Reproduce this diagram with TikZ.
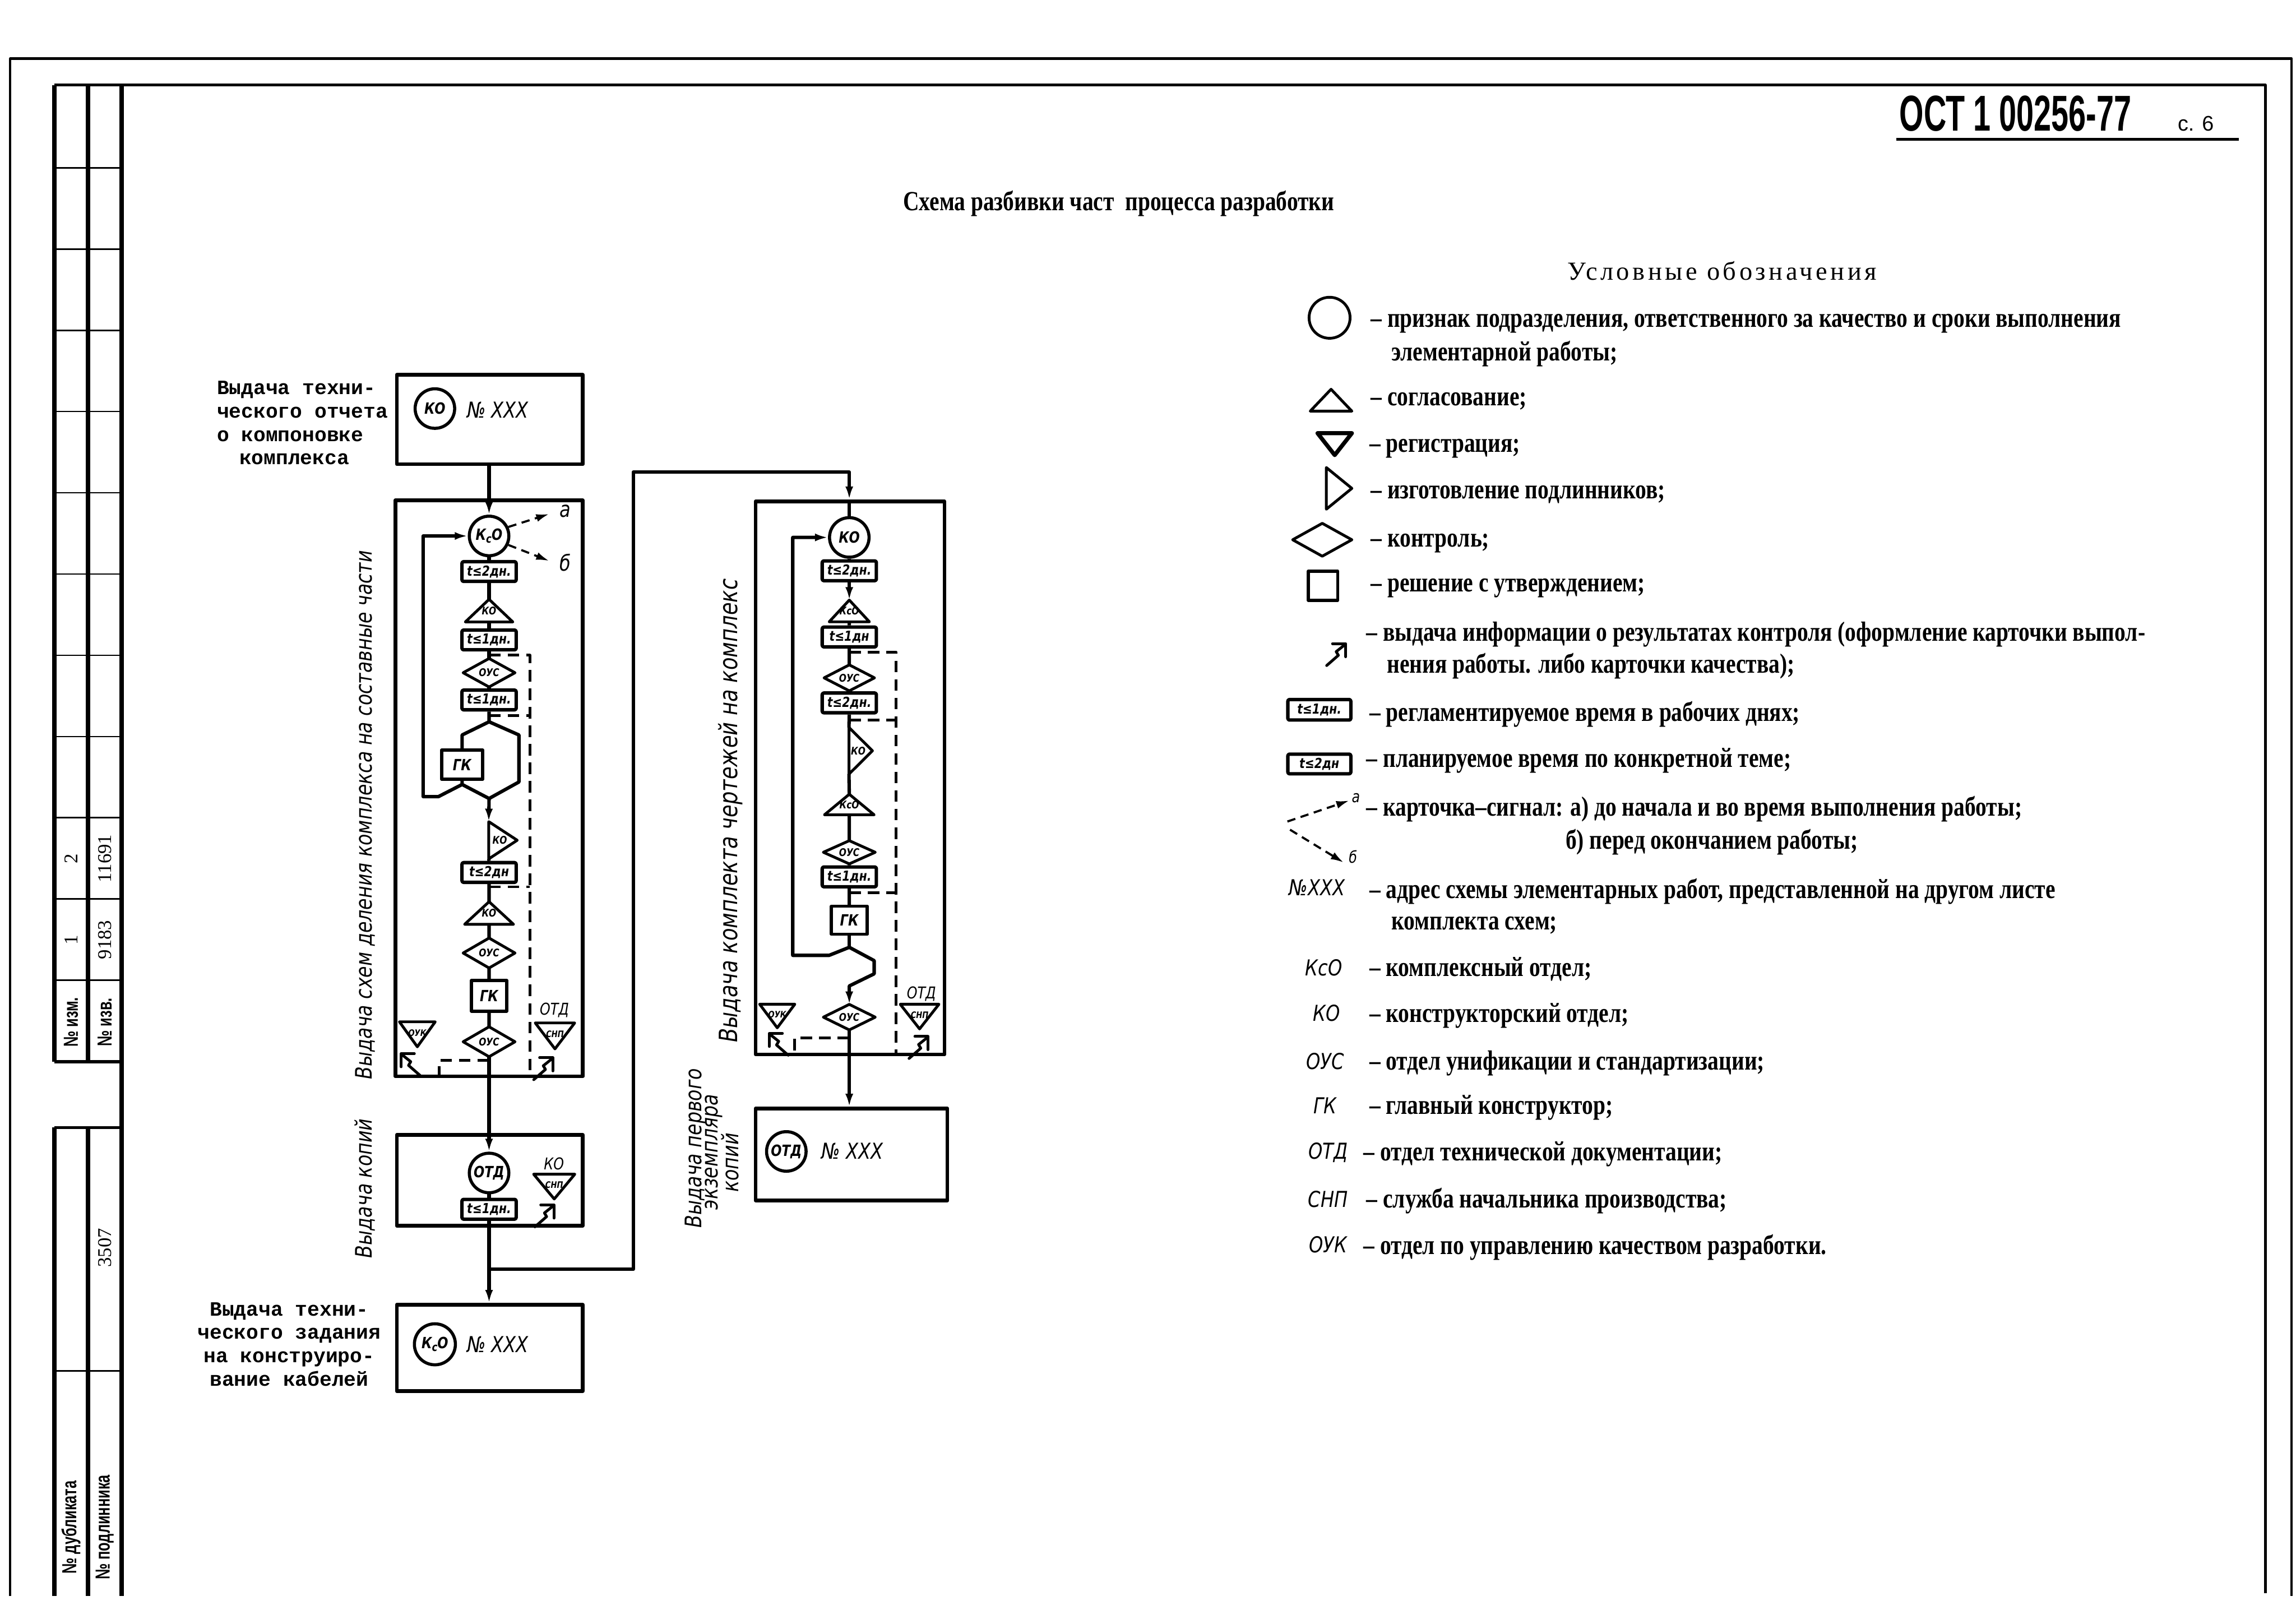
\documentclass[tikz,border=0pt]{standalone}
\usepackage{fontspec}
\setmainfont{Liberation Serif}
\newfontfamily\gostf[FakeStretch=0.82]{DejaVu Sans}
\newfontfamily\legf[FakeStretch=0.8]{Liberation Serif}
\newfontfamily\legsp[LetterSpace=12]{Liberation Serif}
\newfontfamily\monof{Liberation Mono}
\newfontfamily\hdrf[FakeStretch=0.62]{Liberation Sans}
\newfontfamily\sansf{Liberation Sans}
\newfontfamily\stpf[FakeStretch=0.7]{Liberation Sans}
\usetikzlibrary{arrows.meta}
\def\U{0.31645mm}
\newcommand\myLab{\gostf\itshape\fontsize{10}{12}\selectfont}
\newcommand\myCir{\gostf\itshape\bfseries\fontsize{9.5}{12}\selectfont}
\newcommand\myTim{\gostf\itshape\bfseries\fontsize{8.5}{10}\selectfont}
\newcommand\mySm{\gostf\itshape\bfseries\fontsize{6.5}{7}\selectfont}
\newcommand\myXs{\gostf\itshape\bfseries\fontsize{5.5}{6}\selectfont}
\newcommand\myNum{\gostf\itshape\fontsize{13.5}{15}\selectfont}
\newcommand\myAbb{\gostf\itshape\fontsize{13.5}{15}\selectfont}
\newcommand\myVert{\gostf\itshape\fontsize{14}{16}\selectfont}
\newcommand\myVertB{\gostf\itshape\fontsize{15.5}{17}\selectfont}
\newcommand\myLeg{\legf\bfseries\fontsize{17}{20}\selectfont}
\newcommand\myLeft{\monof\bfseries\fontsize{12.5}{14.4}\selectfont}
\newcommand\myKcO{К\raisebox{-0.35ex}{\fontsize{7}{7}\selectfont с}О}
\newcommand\triup[1]{\draw[shp] (#1.south west) -- (#1.south east) -- (#1.north) -- cycle;}
\newcommand\tridn[1]{\draw[shp] (#1.north west) -- (#1.north east) -- (#1.south) -- cycle;}
\newcommand\trirt[1]{\draw[shp] (#1.north west) -- (#1.east) -- (#1.south west) -- cycle;}
\newcommand\mydia[1]{\draw[shp] (#1.north) -- (#1.east) -- (#1.south) -- (#1.west) -- cycle;}
\tikzset{fbic/.pic={
  \draw[line width=1.7pt, line cap=round] (9,0) -- (0,0) -- (0,9);
  \draw[line width=1.7pt, line cap=round] (1.5,1.5) -- (6.5,5.5) -- (5,8) -- (13,15);}}
\begin{document}
\begin{tikzpicture}[x=0.31645mm, y=-0.31645mm, line join=round,
 main/.style={line width=2.1pt},
 shp/.style={line width=1.7pt},
 frm/.style={draw, line width=2.3pt, rectangle, inner sep=0pt},
 arr/.style={-{Latex[length=2.8mm,width=1.7mm]}},
 dsh/.style={line width=1.7pt, dash pattern=on 2.5mm off 1.5mm},
 sig/.style={line width=1.3pt, dash pattern=on 1.8mm off 1.2mm},
 circ/.style={circle, draw, line width=1.9pt, minimum size=27*\U, inner sep=0pt, font=\myCir},
 tbx/.style={rectangle, draw, line width=2.1pt, rounded corners=1pt, minimum width=37*\U, minimum height=13.5*\U, inner sep=0pt, font=\myTim},
 gkb/.style={rectangle, draw, line width=1.9pt, inner sep=0pt, font=\myCir},
 shpbox/.style={rectangle, inner sep=0pt, font=\mySm},
 txt/.style={inner sep=0pt},
 leg/.style={anchor=west, inner sep=0pt, font=\myLeg, text height=12pt, text depth=3.5pt},
 abb/.style={inner sep=0pt, font=\myAbb},
 stp/.style={inner sep=0pt, rotate=90, font=\stpf\bfseries\fontsize{12.5}{13}\selectfont},
 stn/.style={inner sep=0pt, rotate=90, font=\fontsize{12}{13}\selectfont},
]
\fill[white] (0,0) rectangle (1568,1109);
\useasboundingbox (0,0) rectangle (1568,1109);

% ---------- page frame and stamp ----------
\draw[line width=1.4pt] (7,1090) -- (7,40) -- (1565,40) -- (1565,1090);
\draw[line width=1.6pt] (37,58) -- (1547,58) -- (1547,1088);
\draw[line width=2.8pt] (37,58) -- (37,725) (60,58) -- (60,725) (83,58) -- (83,1090)
  (37,770) -- (37,1090) (60,770) -- (60,1090);
\foreach \yy in {114.5,170,225.5,281,336.5,392,447.5,503,558.5,614,669.5,936}
  \draw[line width=1pt] (37,\yy) -- (83,\yy);
\draw[line width=2pt] (37,725) -- (83,725) (37,770) -- (83,770);
\node[stp] (s1) at (48.5,698) {№ изм.};
\node[stp] (s2) at (71.5,698) {№ изв.};
\node[stn] (s3) at (48.5,641.8) {1};
\node[stn] (s4) at (71.5,641.8) {9183};
\node[stn] (s5) at (48.5,586.3) {2};
\node[stn] (s6) at (71.5,586.3) {11691};
\node[stn] (s7) at (71.5,852) {3507};
\node[stp] (s8) at (48.5,1043) {№ дубликата};
\node[stp] (s9) at (71.5,1043) {№ подлинника};

% ---------- header ----------
\node[txt, anchor=base west, font=\hdrf\bfseries\fontsize{31}{34}\selectfont] (ost) at (1297,89.5) {ОСТ 1 00256-77};
\node[txt, anchor=base west, font=\sansf\fontsize{13}{14}\selectfont] (pg) at (1487,89.5) {с. 6};
\draw[line width=1.8pt] (1295,95) -- (1529,95);
\node[txt, font=\myLeg] (title) at (764,139) {Схема разбивки част\ \ процесса разработки};

% ---------- column 1 ----------
\node[txt, font=\myLeft, align=left, anchor=north west] (lab1) at (148,260) {Выдача техни-\\ческого отчета\\о компоновке\\\hspace*{1.1em}комплекса};
\node[frm, minimum width=127*\U, minimum height=61*\U] (box1) at (334.5,286.5) {};
\node[circ] (c0) at (297,279) {КО};
\node[txt, font=\myNum] (n0) at (340,280) {№ XXX};

\node[frm, minimum width=128*\U, minimum height=393.4*\U] (box2) at (334,538.3) {};
\node[circ] (c1) at (334,366) {\myKcO};
\node[tbx] (tb11) at (334,390.3) {t≤2дн.};
\node[shpbox, minimum width=32*\U, minimum height=15*\U] (t12) at (334,417) {\raisebox{-2pt}{КО}}; \triup{t12}
\node[tbx] (tb13) at (334,437) {t≤1дн.};
\node[shpbox, minimum width=35*\U, minimum height=19*\U] (d14) at (334,459.4) {ОУС}; \mydia{d14}
\node[tbx] (tb15) at (334,478) {t≤1дн.};
\node[gkb, minimum width=28*\U, minimum height=20*\U] (gk16) at (315.6,522.2) {ГК};
\node[shpbox, minimum width=19*\U, minimum height=25*\U] (t17) at (343.5,573.8) {\hspace*{-4pt}КО}; \trirt{t17}
\node[tbx] (tb18) at (334,595.8) {t≤2дн};
\node[shpbox, minimum width=33*\U, minimum height=15*\U] (t19) at (334,623.5) {\raisebox{-2pt}{КО}}; \triup{t19}
\node[shpbox, minimum width=35*\U, minimum height=20*\U] (d20) at (334,650.8) {ОУС}; \mydia{d20}
\node[gkb, minimum width=24*\U, minimum height=21*\U] (gk21) at (334,680) {ГК};
\node[shpbox, minimum width=35*\U, minimum height=20*\U] (d22) at (334,711.4) {ОУС}; \mydia{d22}
\node[shpbox, font=\myXs, minimum width=24*\U, minimum height=16.6*\U] (t23) at (285,706.3) {\raisebox{2pt}{ОУК}}; \tridn{t23}
\node[shpbox, font=\myXs, minimum width=26.5*\U, minimum height=17.3*\U] (t24) at (379,707.4) {\raisebox{2pt}{СНП}}; \tridn{t24}
\node[txt, font=\myLab] (o24) at (378.6,690) {ОТД};
\node[txt, font=\myVert, rotate=90] (v1lab) at (249.5,556.5) {Выдача схем деления комплекса на составные части};

\coordinate (h0) at (334,492.9);
\coordinate (h1) at (315.6,501.9);
\coordinate (h2) at (315.6,535.7);
\coordinate (h3) at (334,545.3);
\coordinate (h4) at (354.4,501.9);
\coordinate (h5) at (354.4,534);
\coordinate (l1) at (299.4,544);
\coordinate (l2) at (289,544);
\draw[main,arr] (c1.north |- box1.south) -- (c1.north);
\draw[main] (c1.south) -- (tb11.north) (tb11.south) -- (t12.north) (t12.south) -- (tb13.north)
  (tb13.south) -- (d14.north) (d14.south) -- (tb15.north);
\draw[main] (tb15.south) -- (h0) -- (h1) -- (gk16.north);
\draw[main] (gk16.south) -- (h2) -- (h3) -- (h5) -- (h4) -- (h0);
\draw[main,arr] (h2) -- (l1) -- (l2) |- (c1.west);
\draw[main,arr] (h3) -- (t17.north west);
\draw[main] (t17.south west) -- (tb18.north) (tb18.south) -- (t19.north) (t19.south) -- (d20.north)
  (d20.south) -- (gk21.north) (gk21.south) -- (d22.north);
\coordinate (sgA) at (375,351);
\coordinate (sgB) at (375,383);
\draw[sig,arr] (c1.25) -- (sgA);
\draw[sig,arr] (c1.-25) -- (sgB);
\node[txt, font=\myNum] (la) at (386,349) {а};
\node[txt, font=\myNum] (lb) at (386,384) {б};
\coordinate (d1) at (334,447.4);
\coordinate (d1r) at (361.8,447.4);
\coordinate (d1b) at (361.8,735);
\coordinate (d2) at (334,488.8);
\coordinate (d3) at (334,605.6);
\coordinate (d4) at (334,724);
\coordinate (d4l) at (300,724);
\coordinate (d4b) at (300,735);
\draw[dsh] (d1) -- (d1r) -- (d1b);
\draw[dsh] (d2) -- (d2 -| d1r);
\draw[dsh] (d3) -- (d3 -| d1r);
\draw[dsh] (d4) -- (d4l) -- (d4b);
\pic at (274,719.5) {fbic};
\pic[xscale=-1] at (377.5,722.3) {fbic};

% box 3
\node[frm, minimum width=127*\U, minimum height=62*\U] (box3) at (334.5,806) {};
\node[circ] (c3) at (334,801) {ОТД};
\node[tbx] (tb3) at (334,825.8) {t≤1дн.};
\node[shpbox, font=\myXs, minimum width=27.7*\U, minimum height=16.5*\U] (t3) at (378.5,810.3) {\raisebox{2pt}{СНП}}; \tridn{t3}
\node[txt, font=\myLab] (k3) at (378.3,794.8) {КО};
\pic[xscale=-1] at (378.3,822.8) {fbic};
\node[txt, font=\myVert, rotate=90] (v2lab) at (249,811.5) {Выдача копий};
\draw[main,arr] (d22.south) -- (c3.north);
\draw[main] (c3.south) -- (tb3.north);

% box 4
\node[frm, minimum width=127*\U, minimum height=59*\U] (box4) at (334.5,920.5) {};
\node[circ, minimum size=28*\U] (c4) at (297,918) {\myKcO};
\node[txt, font=\myNum] (n4) at (340,918) {№ XXX};
\node[txt, font=\myLeft, align=center] (lab4) at (197.5,918) {Выдача техни-\\ческого задания\\на конструиро-\\вание кабелей};
\draw[main,arr] (tb3.south) -- (c3.north |- box4.north);

% ---------- column 2 ----------
\node[frm, minimum width=129*\U, minimum height=377.7*\U] (box5) at (580.5,531.2) {};
\node[circ] (c5) at (580,367) {КО};
\node[tbx] (tb51) at (580,389.8) {t≤2дн.};
\node[shpbox, minimum width=27*\U, minimum height=14.4*\U] (t52) at (580,417.2) {\raisebox{-2pt}{КсО}}; \triup{t52}
\node[tbx] (tb53) at (580,435) {t≤1дн};
\node[shpbox, minimum width=34*\U, minimum height=17.3*\U] (d54) at (580,462.9) {ОУС}; \mydia{d54}
\node[tbx] (tb55) at (580,480) {t≤2дн.};
\node[shpbox, minimum width=15.6*\U, minimum height=31.4*\U] (t56) at (587.8,512.7) {\hspace*{-3pt}КО}; \trirt{t56}
\node[shpbox, minimum width=33.5*\U, minimum height=13.6*\U] (t57) at (580,549.4) {\raisebox{-2pt}{КсО}}; \triup{t57}
\node[shpbox, minimum width=35*\U, minimum height=15.4*\U] (d58) at (580,582) {ОУС}; \mydia{d58}
\node[tbx] (tb59) at (580,598.8) {t≤1дн.};
\node[gkb, minimum width=24.6*\U, minimum height=19.1*\U] (gk5) at (580,628.4) {ГК};
\node[shpbox, minimum width=35*\U, minimum height=17*\U] (d5b) at (580,694.6) {ОУС}; \mydia{d5b}
\node[shpbox, font=\myXs, minimum width=23.6*\U, minimum height=15.7*\U] (t5l) at (530.8,693.8) {\raisebox{2pt}{ОУК}}; \tridn{t5l}
\node[shpbox, font=\myXs, minimum width=26*\U, minimum height=16.4*\U] (t5r) at (628,694.2) {\raisebox{2pt}{СНП}}; \tridn{t5r}
\node[txt, font=\myLab] (o5) at (629.3,678.7) {ОТД};
\node[txt, font=\myVertB, rotate=90] (v3lab) at (498.7,553.6) {Выдача комплекта чертежей на комплекс};

\coordinate (br0) at (334,866.8);
\coordinate (br1) at (432.4,866.8);
\coordinate (br2) at (432.4,322.4);
\coordinate (br3) at (580,322.4);
\draw[main,arr] (br0) -- (br1) -- (br2) -- (br3) -- (c5.north |- box5.north);
\draw[main] (c5.north |- box5.north) -- (c5.north);
\draw[main] (c5.south) -- (tb51.north);
\draw[main,arr] (tb51.south) -- (t52.north);
\draw[main] (t52.south) -- (tb53.north) (tb53.south) -- (d54.north) (d54.south) -- (tb55.north)
  (tb55.south) -- (t56.north west) (t56.south west) -- (t57.north) (t57.south) -- (d58.north)
  (d58.south) -- (tb59.north) (tb59.south) -- (gk5.north);
\coordinate (v0) at (580,646.9);
\coordinate (v1) at (566.2,652.4);
\coordinate (v2) at (541.4,652.4);
\coordinate (v3) at (597,656);
\coordinate (v4) at (597,665);
\coordinate (v5) at (580,673.3);
\draw[main] (gk5.south) -- (v0);
\draw[main,arr] (v0) -- (v1) -- (v2) |- (c5.west);
\draw[main,arr] (v0) -- (v3) -- (v4) -- (v5) -- (d5b.north);
\coordinate (e1) at (580,445.3);
\coordinate (f1) at (612,445.3);
\coordinate (f2) at (612,720);
\coordinate (e2) at (580,491.6);
\coordinate (e3) at (580,609.7);
\coordinate (e4) at (580,708.7);
\coordinate (g1) at (542.7,708.7);
\coordinate (g2) at (542.7,720);
\draw[dsh] (e1) -- (f1) -- (f2);
\draw[dsh] (e2) -- (e2 -| f1);
\draw[dsh] (e3) -- (e3 -| f1);
\draw[dsh] (e4) -- (g1) -- (g2);
\pic at (525.3,705.6) {fbic};
\pic[xscale=-1] at (633.8,707.8) {fbic};

% box 6
\node[frm, minimum width=131*\U, minimum height=62.7*\U] (box6) at (581.5,788.4) {};
\node[circ] (c6) at (537,786.3) {ОТД};
\node[txt, font=\myNum] (n6) at (582,786) {№ XXX};
\draw[main,arr] (d5b.south) -- (d5b.south |- box6.north);
\node[txt, font=\myVert, rotate=90] (v4a) at (475.2,784) {Выдача первого};
\node[txt, font=\myVert, rotate=90] (v4b) at (487.5,786.7) {экземпляра};
\node[txt, font=\myVert, rotate=90] (v4c) at (498.5,794) {копий};

% ---------- legend ----------
\node[txt, font=\legsp\fontsize{16}{18}\selectfont] (lgt) at (1176,185) {Условные обозначения};
\node[circle, draw, line width=1.7pt, minimum size=28*\U, inner sep=0pt] (lg1) at (908,217) {};
\node[shpbox, minimum width=28*\U, minimum height=14.5*\U] (lg2) at (909,273.3) {}; \triup{lg2}
\node[shpbox, minimum width=23*\U, minimum height=14.5*\U] (lg3) at (911.5,303.3) {};
\draw[line width=2.5pt] (lg3.north west) -- (lg3.north east) -- (lg3.south) -- cycle;
\node[shpbox, minimum width=17*\U, minimum height=28*\U] (lg4) at (914.5,333.5) {}; \trirt{lg4}
\node[shpbox, minimum width=40*\U, minimum height=22*\U] (lg5) at (903,368.6) {}; \mydia{lg5}
\node[rectangle, draw, line width=1.9pt, minimum width=20*\U, minimum height=20*\U, inner sep=0pt] (lg6) at (903.5,400) {};
\pic[xscale=-1] at (919,439.5) {fbic};
\node[tbx, minimum width=43*\U, minimum height=14*\U] (lg8) at (901,484.7) {t≤1дн.};
\node[tbx, minimum width=43*\U, minimum height=13.4*\U] (lg9) at (901,521.7) {t≤2дн};
\coordinate (sa0) at (879.2,561);
\coordinate (sa1) at (921.4,546.7);
\coordinate (sb0) at (881,566.6);
\coordinate (sb1) at (917.6,589);
\draw[sig,arr] (sa0) -- (sa1);
\draw[sig,arr] (sb0) -- (sb1);
\node[txt, font=\myLab] (sla) at (926,545) {а};
\node[txt, font=\myLab] (slb) at (924,585) {б};
\node[txt, font=\myNum] (lg11) at (899.4,606) {№XXX};
\node[abb] (ab1) at (904,661) {КсО};
\node[abb] (ab2) at (906,692) {КО};
\node[abb] (ab3) at (905,724.6) {ОУС};
\node[abb] (ab4) at (905,755) {ГК};
\node[abb] (ab5) at (907,787.2) {ОТД};
\node[abb] (ab6) at (907,819) {СНП};
\node[abb] (ab7) at (907,850) {ОУК};

\node[leg] (x1) at (936,218.7) {– признак подразделения, ответственного за качество и сроки выполнения};
\node[leg] (x2) at (950,241.5) {элементарной работы;};
\node[leg] (x3) at (936,272.3) {– согласование;};
\node[leg] (x4) at (935,304.1) {– регистрация;};
\node[leg] (x5) at (936,335.9) {– изготовление подлинников;};
\node[leg] (x6) at (936,368.6) {– контроль;};
\node[leg] (x7) at (936,399.5) {– решение с утверждением;};
\node[leg] (x8) at (933,433.1) {– выдача информации о результатах контроля (оформление карточки выпол-};
\node[leg] (x9) at (947,455) {нения работы. либо карточки качества);};
\node[leg] (x10) at (935,487.6) {– регламентируемое время в рабочих днях;};
\node[leg] (x11) at (933,519.2) {– планируемое время по конкретной теме;};
\node[leg] (x12) at (933,552.4) {– карточка–сигнал: а) до начала и во время выполнения работы;};
\node[leg] (x13) at (1069,575) {б) перед окончанием работы;};
\node[leg] (x14) at (935,608.9) {– адрес схемы элементарных работ, представленной на другом листе};
\node[leg] (x15) at (950,630) {комплекта схем;};
\node[leg] (x16) at (935,662) {– комплексный отдел;};
\node[leg] (x17) at (935,693.4) {– конструкторский отдел;};
\node[leg] (x18) at (935,726) {– отдел унификации и стандартизации;};
\node[leg] (x19) at (935,756) {– главный конструктор;};
\node[leg] (x20) at (931,788) {– отдел технической документации;};
\node[leg] (x21) at (933,820) {– служба начальника производства;};
\node[leg] (x22) at (931,851.8) {– отдел по управлению качеством разработки.};
\end{tikzpicture}
\end{document}
